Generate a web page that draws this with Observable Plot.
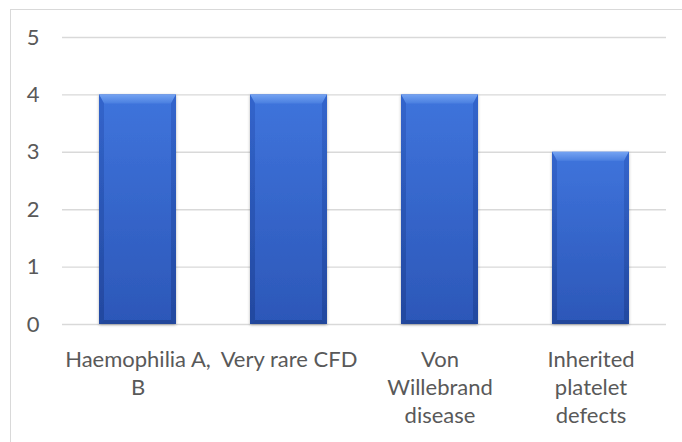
<!DOCTYPE html>
<html><head><meta charset="utf-8">
<script src="https://cdn.jsdelivr.net/npm/d3@7"></script>
<script src="https://cdn.jsdelivr.net/npm/@observablehq/plot@0.6"></script>
<style>
html,body{margin:0;padding:0;background:#fff;overflow:hidden}
#chart{position:relative;width:682px;height:442px}
#frame{position:absolute;left:10px;top:9px;width:700px;height:460px;border:1.5px solid #d9d9d9;box-sizing:border-box;pointer-events:none}
</style></head><body>
<div id="chart"><div id="frame"></div></div>
<script>
// Number of disorder groups per category
const categories = ["Haemophilia A, B", "Very rare CFD", "Von Willebrand disease", "Inherited platelet defects"];
const tickLabels = ["Haemophilia A,\nB", "Very rare CFD", "Von\nWillebrand\ndisease", "Inherited\nplatelet\ndefects"];
const counts = [4, 4, 4, 3];
const yTicks = [0, 1, 2, 3, 4, 5];

const data = categories.map((c, i) => ({category: c, count: counts[i]}));

// Bevelled bar look: a vertical body gradient plus lit/shaded edge facets
function bevel(index, scales, values, dimensions, context, next) {
  const g = next(index, scales, values, dimensions, context);
  const ns = "http://www.w3.org/2000/svg";
  const defs = d3.create("svg:defs");
  const grad = (id, stops) => {
    const lg = defs.append("linearGradient").attr("id", id).attr("x1", 0).attr("y1", 0).attr("x2", 0).attr("y2", 1);
    stops.forEach(([o, c]) => lg.append("stop").attr("offset", o).attr("stop-color", c));
  };
  grad("barBody", [[0, "#3f74dc"], [1, "#2c57b8"]]);
  grad("barTop", [[0, "#74a3f2"], [1, "#4a7fe0"]]);
  grad("barSide", [[0, "#3365cc"], [1, "#23489f"]]);
  const f = defs.append("filter").attr("id", "barShadow").attr("x", "-20%").attr("y", "-10%").attr("width", "140%").attr("height", "130%");
  f.append("feDropShadow").attr("dx", 0).attr("dy", 1).attr("stdDeviation", 1.6).attr("flood-color", "#000").attr("flood-opacity", 0.3);
  g.insertBefore(defs.node(), g.firstChild);
  g.setAttribute("filter", "url(#barShadow)");
  const bw = scales.x.bandwidth();
  const sx = 5, st = 9, sb = 4;
  const X = values.x, Y1 = values.y1, Y2 = values.y2;
  for (const i of index) {
    const x0 = X[i], x1 = x0 + bw;
    const yt = Math.min(Y1[i], Y2[i]), yb = Math.max(Y1[i], Y2[i]);
    const facets = [
      [[[x0, yt], [x1, yt], [x1 - sx, yt + st], [x0 + sx, yt + st]], "url(#barTop)"],
      [[[x0, yt], [x0 + sx, yt + st], [x0 + sx, yb - sb], [x0, yb]], "url(#barSide)"],
      [[[x1, yt], [x1 - sx, yt + st], [x1 - sx, yb - sb], [x1, yb]], "url(#barSide)"],
      [[[x0, yb], [x0 + sx, yb - sb], [x1 - sx, yb - sb], [x1, yb]], "#22469a"]
    ];
    for (const [pts, fill] of facets) {
      const p = document.createElementNS(ns, "polygon");
      p.setAttribute("points", pts.map(d => d.join(",")).join(" "));
      p.setAttribute("fill", fill);
      g.appendChild(p);
    }
  }
  return g;
}

const chart = Plot.plot({
  width: 682,
  height: 442,
  marginLeft: 62,
  marginRight: 16,
  marginTop: 37,
  marginBottom: 118,
  style: {fontFamily: "Lato, 'Noto Sans', sans-serif", fontSize: "22px", color: "#595959", background: "transparent"},
  x: {domain: categories, paddingInner: 0.49, paddingOuter: 0.245},
  y: {domain: [0, 5]},
  marks: [
    Plot.gridY(yTicks, {stroke: "#d9d9d9", strokeOpacity: 1, strokeWidth: 1.4}),
    Plot.barY(data, {x: "category", y: "count", fill: "url(#barBody)", render: bevel}),
    Plot.axisY({ticks: yTicks, tickFormat: "d", tickSize: 0, tickPadding: 23, label: null, fontSize: 22}),
    Plot.axisX({tickSize: 0, tickPadding: 22, label: null, fontSize: 22, lineHeight: 1.28,
      tickFormat: (d) => tickLabels[categories.indexOf(d)]})
  ]
});
document.getElementById("chart").appendChild(chart);
</script>
</body></html>
